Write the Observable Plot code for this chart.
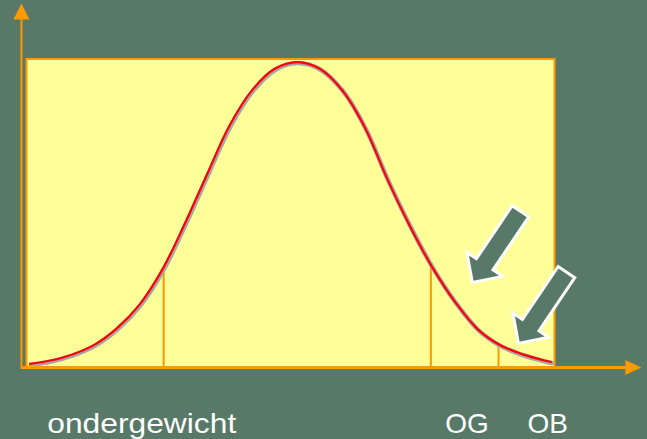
<!DOCTYPE html>
<html>
<head>
<meta charset="utf-8">
<script src="https://cdn.jsdelivr.net/npm/d3@7"></script>
<script src="https://cdn.jsdelivr.net/npm/@observablehq/plot@0.6"></script>
<style>
  html, body { margin: 0; padding: 0; background: #587868; }
  #chart svg { display: block; }
</style>
</head>
<body>
<div id="chart"></div>
<script>
// Curve: x in standard deviations, y relative height (peak = 1)
const curveZ = [-2.96, -2.75, -2.5, -2.25, -2.0, -1.75, -1.5, -1.25, -1.0, -0.75, -0.5, -0.25, 0,
                0.25, 0.5, 0.75, 1.0, 1.25, 1.5, 1.75, 2.0, 2.25, 2.5, 2.75, 2.81];
const curveH = [0.012, 0.022, 0.042, 0.074, 0.128, 0.205, 0.318, 0.468, 0.632, 0.792, 0.908, 0.978, 1.000,
                0.978, 0.907, 0.785, 0.615, 0.462, 0.326, 0.214, 0.125, 0.073, 0.043, 0.022, 0.018];

// Cut-off lines under the curve
const cutZ = [-1.48, 1.48, 2.23];
const cutH = [0.330, 0.335, 0.075];

// Labels under the axis
const labelText = ["ondergewicht", "OG", "OB"];
const labelZ = [-2.77, 1.64, 2.55];

// Block arrows (tip positions)
const arrowZ = [1.94, 2.45];
const arrowH = [0.278, 0.079];

// Axis extents
const xDomain = [-3, 2.85];
const yDomain = [0, 1.01];
const axisX = -3.056;
const xAxisEnd = 3.66, xAxisTip = 3.812;
const yAxisEnd = 1.139, yAxisTip = 1.192, yAxisStart = -0.006;

const BG = "#587868", ORANGE = "#ff9900", YELLOW = "#ffff99";

const curve = curveZ.map((z, i) => ({z, h: curveH[i]}));
const cuts = cutZ.map((z, i) => ({z, h: cutH[i]}));
const labels = labelText.map((t, i) => ({t, z: labelZ[i]}));
const arrows = arrowZ.map((z, i) => ({z, h: arrowH[i]}));

const headSymbol = (len, half) => ({
  draw(ctx) { ctx.moveTo(0, 0); ctx.lineTo(-len, -half); ctx.lineTo(-len, half); ctx.closePath(); }
});
const blockArrow = {
  draw(ctx) {
    ctx.moveTo(0, 0);
    ctx.lineTo(-22, -21.5);
    ctx.lineTo(-22, -10);
    ctx.lineTo(-86, -10);
    ctx.lineTo(-86, 10);
    ctx.lineTo(-22, 10);
    ctx.lineTo(-22, 21.5);
    ctx.closePath();
  }
};

const plot = Plot.plot({
  width: 647,
  height: 439,
  marginLeft: 26,
  marginRight: 93,
  marginTop: 58.5,
  marginBottom: 72,
  style: {background: BG, overflow: "visible"},
  x: {domain: xDomain, axis: null},
  y: {domain: yDomain, axis: null},
  marks: [
    Plot.frame({fill: YELLOW, stroke: ORANGE, strokeWidth: 2}),
    Plot.ruleX(cuts, {x: "z", y1: 0, y2: "h", stroke: ORANGE, strokeWidth: 2}),
    Plot.line(curve, {x: "z", y: "h", curve: "catmull-rom", stroke: "#a6a6a6", strokeWidth: 4.5, dx: 0.8, dy: 1}),
    Plot.line(curve, {x: "z", y: "h", curve: "catmull-rom", stroke: "#ff0000", strokeWidth: 2.2}),
    Plot.ruleY([{y: 0, x1: axisX, x2: xAxisEnd}], {y: "y", x1: "x1", x2: "x2", stroke: ORANGE, strokeWidth: 3}),
    Plot.ruleX([{x: axisX, y1: yAxisStart, y2: yAxisEnd}], {x: "x", y1: "y1", y2: "y2", stroke: ORANGE, strokeWidth: 2}),
    Plot.dot([{x: xAxisTip, y: 0}], {x: "x", y: "y", symbol: headSymbol(16, 7.5), fill: ORANGE, stroke: "none"}),
    Plot.dot([{x: axisX, y: yAxisTip}], {x: "x", y: "y", symbol: headSymbol(16, 8), fill: ORANGE, stroke: "none", rotate: -90}),
    Plot.dot(arrows, {x: "z", y: "h", symbol: blockArrow, fill: BG, stroke: "white", strokeWidth: 3, strokeLinejoin: "miter", rotate: 124}),
    Plot.text(labels, {x: "z", text: "t", frameAnchor: "bottom", lineAnchor: "bottom", textAnchor: "start", dy: 65,
      fill: "white", fontSize: 28, fontFamily: "'Liberation Sans', Arial, sans-serif"})
  ]
});

d3.select(plot).selectAll("text").each(function () {
  if (this.textContent === "ondergewicht") {
    this.setAttribute("textLength", 189);
    this.setAttribute("lengthAdjust", "spacingAndGlyphs");
  }
});

document.getElementById("chart").append(plot);
</script>
</body>
</html>
